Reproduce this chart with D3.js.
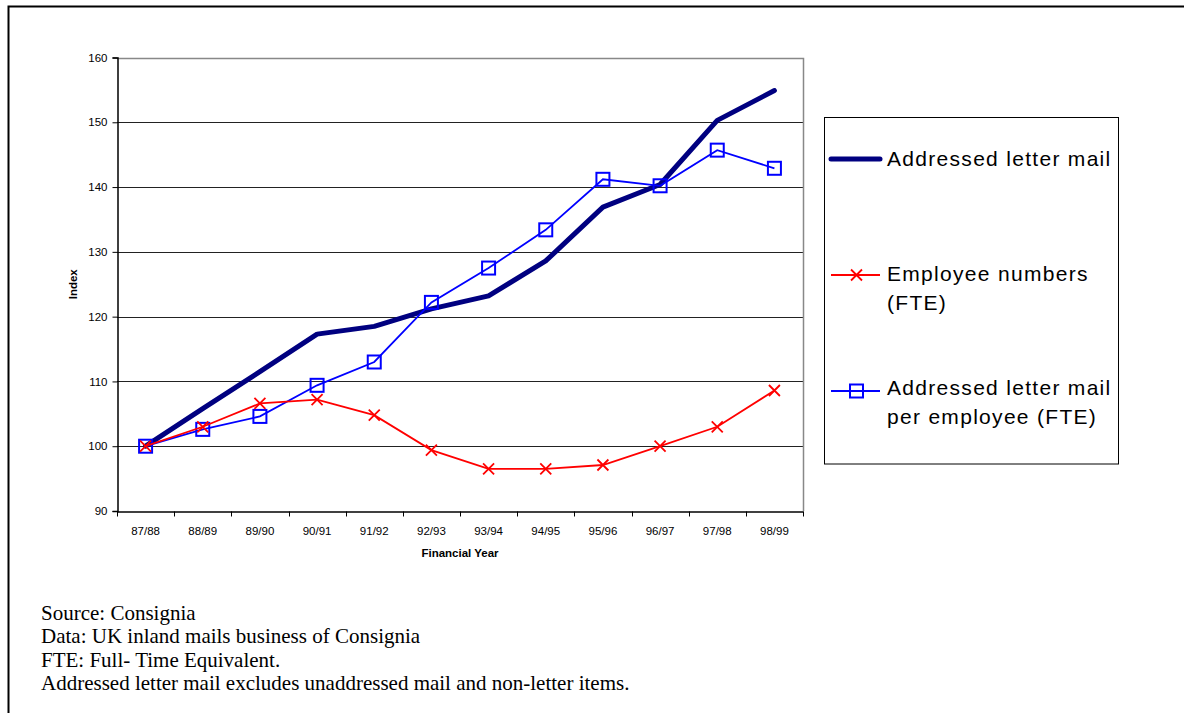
<!DOCTYPE html>
<html>
<head>
<meta charset="utf-8">
<script src="https://cdn.jsdelivr.net/npm/d3@7"></script>
<style>
  html, body { margin: 0; padding: 0; background: #fff; }
  svg { display: block; }
  .tick-label { font-family: "Liberation Sans", Arial, sans-serif; font-size: 11.5px; fill: #000; }
  .axis-title { font-family: "Liberation Sans", Arial, sans-serif; font-size: 11.5px; font-weight: bold; fill: #000; }
  .legend-text { font-family: "Liberation Sans", Arial, sans-serif; font-size: 21px; letter-spacing: 1.3px; fill: #000; }
  .note { font-family: "Liberation Serif", "Times New Roman", serif; font-size: 21px; fill: #000; }
</style>
</head>
<body>
<svg id="chart" width="1184" height="713"></svg>
<script>
// Financial years on the x axis
const years = ["87/88","88/89","89/90","90/91","91/92","92/93","93/94","94/95","95/96","96/97","97/98","98/99"];

// Index values (87/88 = 100)
const letterMail   = [100, 105.8, 111.5, 117.3, 118.5, 121.2, 123.2, 128.6, 136.9, 140.4, 150.3, 154.9];
const employees    = [100, 103.0, 106.6, 107.2, 104.8, 99.4, 96.5, 96.5, 97.1, 100.0, 103.0, 108.6];
const mailPerEmpl  = [100, 102.6, 104.6, 109.4, 113.0, 122.2, 127.5, 133.4, 141.2, 140.2, 145.7, 142.9];

// Y axis ticks
const yTicks = [90, 100, 110, 120, 130, 140, 150, 160];

const seriesNames = ["Addressed letter mail", "Employee numbers (FTE)", "Addressed letter mail per employee (FTE)"];
const notes = [
  "Source: Consignia",
  "Data: UK inland mails business of Consignia",
  "FTE: Full- Time Equivalent.",
  "Addressed letter mail excludes unaddressed mail and non-letter items."
];

const svg = d3.select("#chart");

// Outer frame (top and left edges)
svg.append("path")
  .attr("d", "M8.5,713 L8.5,6.5 L1184,6.5")
  .attr("fill", "none").attr("stroke", "#000").attr("stroke-width", 2);

const plot = { left: 117, right: 803, top: 57.5, bottom: 511 };

const x = d3.scaleBand().domain(years).range([plot.left, plot.right]).padding(0);
const y = d3.scaleLinear().domain([90, 160]).range([plot.bottom, plot.top]);
const cx = d => x(d) + x.bandwidth() / 2;

// Horizontal gridlines
svg.append("g").selectAll("line")
  .data(yTicks.filter(t => t > 90 && t < 160))
  .join("line")
  .attr("x1", plot.left).attr("x2", plot.right)
  .attr("y1", d => Math.round(y(d)) + 0.5).attr("y2", d => Math.round(y(d)) + 0.5)
  .attr("stroke", "#222").attr("stroke-width", 1);

// Plot frame: grey top and right edges
svg.append("path")
  .attr("d", `M${plot.left},${Math.round(plot.top) + 0.5} L${plot.right + 0.5},${Math.round(plot.top) + 0.5} L${plot.right + 0.5},${plot.bottom}`)
  .attr("fill", "none").attr("stroke", "#888").attr("stroke-width", 1.5);

// Y axis
const yAxis = svg.append("g")
  .attr("transform", `translate(${plot.left + 0.5},0)`)
  .call(d3.axisLeft(y).tickValues(yTicks).tickSize(5).tickPadding(5).tickFormat(d3.format("d")));
yAxis.select(".domain").attr("stroke", "#000").attr("stroke-width", 1.5);
yAxis.selectAll(".tick line").attr("stroke", "#000");
yAxis.selectAll(".tick text").attr("class", "tick-label").attr("font-size", null).attr("font-family", null);
yAxis.attr("font-size", null).attr("font-family", null);

// X axis: labels at band centres, tick marks at band boundaries
const xAxis = svg.append("g")
  .attr("transform", `translate(0,${plot.bottom + 0.5})`)
  .call(d3.axisBottom(x).tickSize(0).tickPadding(15));
xAxis.attr("font-size", null).attr("font-family", null);
xAxis.select(".domain").attr("stroke", "#000").attr("stroke-width", 1.5);
xAxis.selectAll(".tick text").attr("class", "tick-label");
const bounds = years.map(d => x(d)).concat([x(years[years.length - 1]) + x.bandwidth()]);
xAxis.selectAll(".bound").data(bounds).join("line")
  .attr("class", "bound")
  .attr("x1", d => Math.round(d) + 0.5).attr("x2", d => Math.round(d) + 0.5)
  .attr("y1", 0).attr("y2", 5)
  .attr("stroke", "#000");

// Axis titles
svg.append("text").attr("class", "axis-title")
  .attr("x", (plot.left + plot.right) / 2).attr("y", 557)
  .attr("text-anchor", "middle").text("Financial Year");
svg.append("text").attr("class", "axis-title")
  .attr("transform", `translate(77,${(plot.top + plot.bottom) / 2}) rotate(-90)`)
  .attr("text-anchor", "middle").text("Index");

const line = d3.line().x((d, i) => cx(years[i])).y(d => y(d));

// Addressed letter mail: thick navy line
svg.append("path").datum(letterMail)
  .attr("d", line).attr("fill", "none")
  .attr("stroke", "#000080").attr("stroke-width", 5)
  .attr("stroke-linejoin", "round").attr("stroke-linecap", "round");

// Addressed letter mail per employee: blue line with square markers
svg.append("path").datum(mailPerEmpl)
  .attr("d", line).attr("fill", "none")
  .attr("stroke", "#0000FF").attr("stroke-width", 1.8);
const sq = 13;
svg.append("g").selectAll("rect").data(mailPerEmpl).join("rect")
  .attr("x", (d, i) => cx(years[i]) - sq / 2).attr("y", d => y(d) - sq / 2)
  .attr("width", sq).attr("height", sq)
  .attr("fill", "none").attr("stroke", "#0000FF").attr("stroke-width", 2);

// Employee numbers: red line with cross markers
svg.append("path").datum(employees)
  .attr("d", line).attr("fill", "none")
  .attr("stroke", "#FF0000").attr("stroke-width", 1.8);
const xm = 5.5;
const crossPath = (px, py) => `M${px - xm},${py - xm}L${px + xm},${py + xm}M${px - xm},${py + xm}L${px + xm},${py - xm}`;
svg.append("g").selectAll("path").data(employees).join("path")
  .attr("d", (d, i) => crossPath(cx(years[i]), y(d)))
  .attr("fill", "none").attr("stroke", "#FF0000").attr("stroke-width", 1.8);

// Legend
const legend = svg.append("g");
legend.append("rect")
  .attr("x", 824.5).attr("y", 117.5).attr("width", 294).attr("height", 346.5)
  .attr("fill", "#fff").attr("stroke", "#000").attr("stroke-width", 1);

legend.append("line").attr("x1", 831).attr("x2", 880).attr("y1", 159).attr("y2", 159)
  .attr("stroke", "#000080").attr("stroke-width", 5).attr("stroke-linecap", "round");
legend.append("text").attr("class", "legend-text").attr("x", 887).attr("y", 166).text(seriesNames[0]);

legend.append("line").attr("x1", 831).attr("x2", 880).attr("y1", 275).attr("y2", 275)
  .attr("stroke", "#FF0000").attr("stroke-width", 1.8);
legend.append("path").attr("d", crossPath(856.5, 275))
  .attr("fill", "none").attr("stroke", "#FF0000").attr("stroke-width", 1.8);
legend.append("text").attr("class", "legend-text").attr("x", 887).attr("y", 281).text("Employee numbers");
legend.append("text").attr("class", "legend-text").attr("x", 887).attr("y", 309.5).text("(FTE)");

legend.append("line").attr("x1", 831).attr("x2", 880).attr("y1", 391).attr("y2", 391)
  .attr("stroke", "#0000FF").attr("stroke-width", 1.8);
legend.append("rect").attr("x", 856.5 - 6.5).attr("y", 391 - 6.5).attr("width", 13).attr("height", 13)
  .attr("fill", "none").attr("stroke", "#0000FF").attr("stroke-width", 2);
legend.append("text").attr("class", "legend-text").attr("x", 887).attr("y", 395).text("Addressed letter mail");
legend.append("text").attr("class", "legend-text").attr("x", 887).attr("y", 424).text("per employee (FTE)");

// Footnotes
svg.append("g").selectAll("text").data(notes).join("text")
  .attr("class", "note")
  .attr("x", 41).attr("y", (d, i) => 620 + i * 23.3)
  .text(d => d);
</script>
</body>
</html>
